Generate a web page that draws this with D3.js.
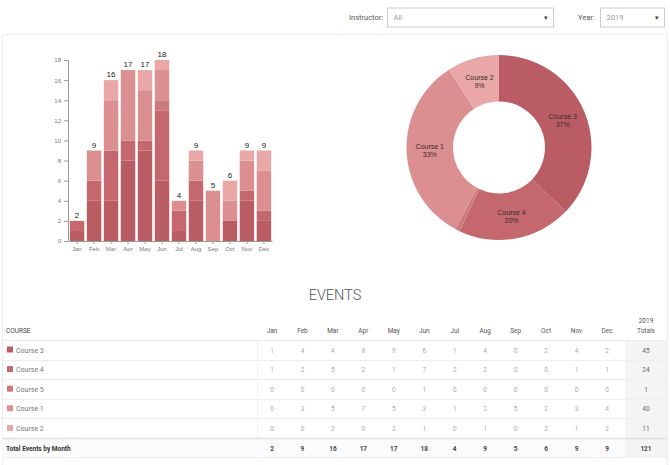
<!DOCTYPE html>
<html>
<head>
<meta charset="utf-8">
<script src="https://d3js.org/d3.v7.min.js"></script>
<style>
  body { margin: 0; background: #fff; }
  svg { display: block; font-family: Roboto, "Liberation Sans", sans-serif; -webkit-font-smoothing: antialiased; }
</style>
</head>
<body>
<script>
  // data
  var months = ["Jan","Feb","Mar","Apr","May","Jun","Jul","Aug","Sep","Oct","Nov","Dec"];
  var courses = ["Course 3","Course 4","Course 5","Course 1","Course 2"];
  var course3 = [1,4,4,8,9,6,1,4,0,2,4,2];
  var course4 = [1,2,5,2,1,7,2,2,0,0,1,1];
  var course5 = [0,0,0,0,0,1,0,0,0,0,0,0];
  var course1 = [0,3,5,7,5,3,1,2,5,2,3,4];
  var course2 = [0,0,2,0,2,1,0,1,0,2,1,2];
  var series = [course3, course4, course5, course1, course2];
  var colors = ["#b95c63","#c4686e","#cd7a7e","#dc8f91","#e9a7a7"];
  var yTicks = [0,2,4,6,8,10,12,14,16,18];
  var year = "2019";

  var W = 670, H = 465;
  var svg = d3.select("body").append("svg").attr("width", W).attr("height", H);

  // top filter controls
  function selectBox(x, w, label, value, lx) {
    svg.append("text").attr("x", lx).attr("y", 20).attr("font-size", 7.5).attr("fill", "#555").text(label);
    svg.append("rect").attr("x", x).attr("y", 8).attr("width", w).attr("height", 19)
      .attr("fill", "#fff").attr("stroke", "#ccc").attr("stroke-width", 1);
    svg.append("text").attr("x", x + 6).attr("y", 20).attr("font-size", 7.5).attr("fill", "#999").text(value);
    svg.append("text").attr("x", x + w - 6).attr("y", 20).attr("font-size", 7).attr("fill", "#444")
      .attr("text-anchor", "end").text("▾");
  }
  selectBox(387.5, 166, "Instructor:", "All", 349);
  selectBox(600.5, 64, "Year:", year, 578);

  // panel
  svg.append("rect").attr("x", 2.5).attr("y", 34.5).attr("width", 665).attr("height", 440)
    .attr("rx", 3).attr("fill", "none").attr("stroke", "#ececec");

  // stacked data
  var rows = months.map(function(m, i) {
    var r = { month: m };
    courses.forEach(function(c, k) { r[c] = series[k][i]; });
    return r;
  });
  var stack = d3.stack().keys(courses)(rows);
  var totals = months.map(function(m, i) { return d3.sum(series, function(s) { return s[i]; }); });

  var x = d3.scaleBand().domain(months).range([69, 272]).paddingInner(0.15).paddingOuter(0.05);
  var y = d3.scaleLinear().domain([0, 18]).range([241, 60]);

  var g = svg.append("g");
  g.selectAll("g.layer").data(stack).enter().append("g")
    .attr("fill", function(d, i) { return colors[i]; })
    .selectAll("rect").data(function(d) { return d; }).enter().append("rect")
    .attr("x", function(d) { return x(d.data.month); })
    .attr("y", function(d) { return y(d[1]); })
    .attr("width", x.bandwidth())
    .attr("height", function(d) { return y(d[0]) - y(d[1]); });

  g.selectAll("text.total").data(totals).enter().append("text")
    .attr("x", function(d, i) { return x(months[i]) + x.bandwidth() / 2; })
    .attr("y", function(d) { return y(d) - 3; })
    .attr("text-anchor", "middle").attr("font-size", 8).attr("fill", "#222")
    .attr("font-family", "'Liberation Sans', sans-serif")
    .text(function(d) { return d; });

  var yAxis = svg.append("g").attr("transform", "translate(68,0)")
    .call(d3.axisLeft(y).tickValues(yTicks).tickSize(4).tickPadding(3));
  var xAxis = svg.append("g").attr("transform", "translate(0,241)")
    .call(d3.axisBottom(x).tickSize(3).tickPadding(3).tickSizeOuter(0));
  [yAxis, xAxis].forEach(function(a) {
    a.selectAll("path, line").attr("stroke", "#999");
    a.selectAll("text").attr("fill", "#777").attr("font-size", 6)
      .attr("font-family", "'Liberation Sans', sans-serif");
  });
  yAxis.select(".domain").attr("d", "M-4,60.5H0.5V241.5");

  // donut
  var courseTotals = series.map(function(s) { return d3.sum(s); });
  var grand = d3.sum(courseTotals);
  var pie = d3.pie().sort(null).value(function(d) { return d; })(courseTotals);
  var arc = d3.arc().innerRadius(46).outerRadius(92.5);
  var pg = svg.append("g").attr("transform", "translate(499,147.5)");
  pg.selectAll("path").data(pie).enter().append("path")
    .attr("d", arc).attr("fill", function(d, i) { return colors[i]; });
  var lab = pg.selectAll("text").data(pie.filter(function(d) { return d.value / grand > 0.02; }))
    .enter().append("text")
    .attr("transform", function(d) { return "translate(" + arc.centroid(d) + ")"; })
    .attr("text-anchor", "middle").attr("font-size", 7)
    .attr("font-family", "'Liberation Sans', sans-serif").attr("fill", "#3a2a2c");
  lab.append("tspan").attr("x", 0).attr("dy", -1).text(function(d) { return courses[d.index]; });
  lab.append("tspan").attr("x", 0).attr("dy", 8)
    .text(function(d) { return Math.round(d.value / grand * 100) + "%"; });

  // EVENTS title
  svg.append("text").attr("x", 335).attr("y", 300).attr("text-anchor", "middle")
    .attr("font-size", 14.5).attr("font-weight", 300).attr("fill", "#555")
    .text("EVENTS");

  // table
  var colX = d3.scaleLinear().domain([0, 11]).range([272, 607]);
  var totX = 646;
  var rowY = d3.scaleLinear().domain([0, 5]).range([340, 438]);
  var t = svg.append("g");

  t.append("rect").attr("x", 625).attr("y", 340).attr("width", 42.5).attr("height", 117.5).attr("fill", "#f4f4f4");
  t.append("rect").attr("x", 2.5).attr("y", 438).attr("width", 622.5).attr("height", 19.5).attr("fill", "#fbfbfb");

  t.append("text").attr("x", 6).attr("y", 333).attr("font-size", 6.5).attr("fill", "#444").text("COURSE");
  t.selectAll("text.mh").data(months).enter().append("text")
    .attr("x", function(d, i) { return colX(i); }).attr("y", 333)
    .attr("text-anchor", "middle").attr("font-size", 6.5).attr("fill", "#555").text(function(d) { return d; });
  t.append("text").attr("x", totX).attr("y", 323).attr("text-anchor", "middle").attr("font-size", 6.5).attr("fill", "#555").text(year);
  t.append("text").attr("x", totX).attr("y", 333).attr("text-anchor", "middle").attr("font-size", 6.5).attr("fill", "#555").text("Totals");

  d3.range(6).forEach(function(i) {
    t.append("line").attr("x1", 2.5).attr("x2", 667.5)
      .attr("y1", Math.round(rowY(i)) + 0.5).attr("y2", Math.round(rowY(i)) + 0.5)
      .attr("stroke", i === 5 ? "#ddd" : "#eee").attr("stroke-width", i === 5 ? 1.5 : 1);
  });
  t.append("line").attr("x1", 2.5).attr("x2", 667.5).attr("y1", 457.5).attr("y2", 457.5).attr("stroke", "#eee");
  t.append("line").attr("x1", 257.5).attr("x2", 257.5).attr("y1", 340).attr("y2", 438).attr("stroke", "#eee");

  courses.forEach(function(c, k) {
    var cy = rowY(k) + 12.5;
    t.append("rect").attr("x", 7).attr("y", cy - 6).attr("width", 6).attr("height", 6).attr("fill", colors[k]);
    t.append("text").attr("x", 16).attr("y", cy).attr("font-size", 7).attr("fill", "#777").text(c);
    t.selectAll(null).data(series[k]).enter().append("text")
      .attr("x", function(d, i) { return colX(i); }).attr("y", cy)
      .attr("text-anchor", "middle").attr("font-size", 6.5).attr("fill", "#aaa")
      .text(function(d) { return d; });
    t.append("text").attr("x", totX).attr("y", cy).attr("text-anchor", "middle")
      .attr("font-size", 6.5).attr("fill", "#666").text(courseTotals[k]);
  });

  var ty = rowY(5) + 12.5;
  t.append("text").attr("x", 6).attr("y", ty).attr("font-size", 6.5).attr("font-weight", 700).attr("fill", "#333").text("Total Events by Month");
  t.selectAll(null).data(totals).enter().append("text")
    .attr("x", function(d, i) { return colX(i); }).attr("y", ty)
    .attr("text-anchor", "middle").attr("font-size", 6.5).attr("font-weight", 700).attr("fill", "#444")
    .text(function(d) { return d; });
  t.append("text").attr("x", totX).attr("y", ty).attr("text-anchor", "middle")
    .attr("font-size", 6.5).attr("font-weight", 700).attr("fill", "#444").text(grand);
</script>
</body>
</html>
